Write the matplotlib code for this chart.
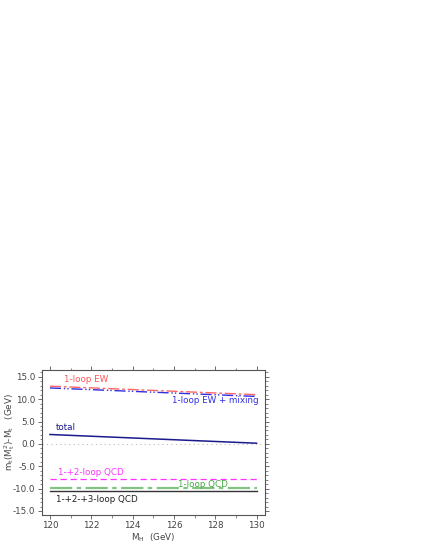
import matplotlib
matplotlib.use("Agg")
import matplotlib.pyplot as plt
from matplotlib.ticker import MultipleLocator, FormatStrFormatter

mh = [120, 130]
ew1 = [12.9, 11.0]
ew_mix = [12.5, 10.6]
total = [2.1, 0.15]
qcd12 = [-7.9, -7.9]
qcd1 = [-9.8, -9.8]
qcd123 = [-10.45, -10.45]
xticks = [120, 122, 124, 126, 128, 130]
yticks = [15, 10, 5, 0, -5, -10, -15]

fig = plt.figure(figsize=(4.21, 5.45), dpi=100)
ax = fig.add_axes([0.099, 0.055, 0.530, 0.266])

ax.axhline(0, color='#bbbbbb', lw=0.8, ls=(0, (1, 3)))
ax.plot(mh, ew1, color='#ff6666', lw=1.0, ls=(0, (8, 2, 2, 2)))
ax.plot(mh, ew_mix, color='#2f2fe0', lw=1.0, ls=(0, (8, 2, 1, 1.5, 1, 2)))
ax.plot(mh, total, color='#1a1a8c', lw=1.1)
ax.plot(mh, qcd12, color='#ff33ff', lw=0.9, ls=(0, (5, 3)))
ax.plot(mh, qcd1, color='#80c480', lw=1.6, ls=(0, (10, 2, 2, 2)))
ax.plot(mh, qcd123, color='#333333', lw=1.0)

fs = 6.3
ax.text(120.7, 14.4, "1-loop EW", color='#ff5555', fontsize=fs, va='center')
ax.text(125.9, 9.7, "1-loop EW + mixing", color='#2f2fe0', fontsize=fs, va='center')
ax.text(120.3, 3.6, "total", color='#1a1a8c', fontsize=fs, va='center')
ax.text(120.4, -6.4, "1-+2-loop QCD", color='#ff33ff', fontsize=fs, va='center')
ax.text(126.2, -9.1, "1-loop QCD", color='#44aa44', fontsize=fs, va='center')
ax.text(120.3, -12.5, "1-+2-+3-loop QCD", color='#222222', fontsize=fs, va='center')

ax.set_xlim(119.6, 130.4)
ax.set_ylim(-15.9, 16.5)
ax.set_xticks(xticks)
ax.set_yticks(yticks)
ax.xaxis.set_minor_locator(MultipleLocator(1))
ax.yaxis.set_minor_locator(MultipleLocator(1))
ax.yaxis.set_major_formatter(FormatStrFormatter('%.1f'))
ax.tick_params(axis='both', which='major', labelsize=fs, labelcolor='#444444', colors='#555555',
               length=3, width=0.6, direction='out', top=True, right=True, pad=1.5)
ax.tick_params(axis='both', which='minor', length=1.8, width=0.5, direction='out',
               top=True, right=True, colors='#555555')
for s in ax.spines.values():
    s.set_color('#555555')
    s.set_linewidth(0.8)

ax.set_xlabel(r"M$_\mathregular{H}$  (GeV)", fontsize=fs, color='#444444')
ax.set_ylabel(r"m$_\mathregular{t}$(M$_\mathregular{t}^2$)-M$_\mathregular{t}$   (GeV)", fontsize=fs,
              color='#444444')
ax.xaxis.set_label_coords(0.5, -0.115)
ax.yaxis.set_label_coords(-0.112, 0.57)

fig.savefig("out.png", dpi=100)
